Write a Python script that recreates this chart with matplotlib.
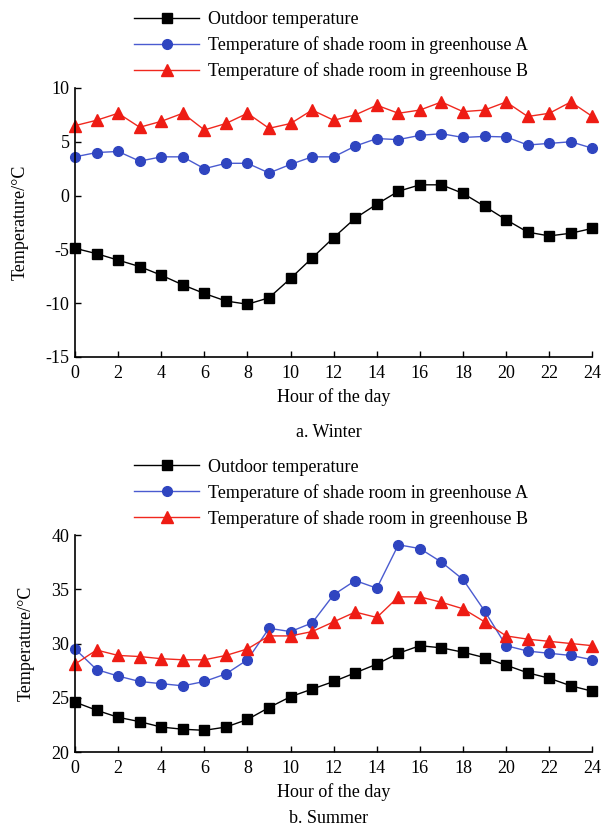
import numpy as np
import matplotlib
matplotlib.use('Agg')
import matplotlib.pyplot as plt

plt.rcParams['font.family'] = ['Liberation Serif', 'DejaVu Serif']
plt.rcParams['axes.unicode_minus'] = False

hours = list(range(25))

# Vinter
winter_out = [-4.9, -5.4, -6.0, -6.6, -7.4, -8.3, -9.1, -9.8, -10.1, -9.5, -7.7, -5.8, -3.9,
              -2.1, -0.8, 0.4, 1.0, 1.0, 0.2, -1.0, -2.25, -3.4, -3.75, -3.5, -3.05]
winter_a = [3.6, 4.0, 4.1, 3.2, 3.6, 3.6, 2.5, 3.0, 3.0, 2.1, 2.9, 3.6, 3.6,
            4.6, 5.3, 5.2, 5.6, 5.75, 5.4, 5.5, 5.45, 4.7, 4.85, 5.0, 4.4]
winter_b = [6.5, 7.0, 7.65, 6.35, 6.9, 7.65, 6.1, 6.7, 7.65, 6.25, 6.7, 7.95, 7.0,
            7.5, 8.4, 7.65, 7.95, 8.7, 7.8, 7.95, 8.7, 7.35, 7.65, 8.7, 7.35]

# Sommar
summer_out = [24.6, 23.85, 23.2, 22.8, 22.3, 22.1, 22.0, 22.3, 23.0, 24.1, 25.1, 25.8, 26.5,
              27.3, 28.1, 29.1, 29.8, 29.6, 29.2, 28.7, 28.0, 27.3, 26.8, 26.1, 25.6]
summer_a = [29.5, 27.6, 27.0, 26.5, 26.3, 26.1, 26.5, 27.2, 28.5, 31.4, 31.1, 31.9, 34.5,
            35.8, 35.1, 39.1, 38.75, 37.5, 35.9, 33.0, 29.8, 29.3, 29.1, 28.9, 28.5]
summer_b = [28.1, 29.4, 28.9, 28.8, 28.6, 28.5, 28.5, 28.9, 29.5, 30.7, 30.7, 31.1, 32.0,
            32.9, 32.4, 34.3, 34.3, 33.8, 33.2, 32.0, 30.7, 30.4, 30.2, 30.0, 29.8]

labels = ['Outdoor temperature',
          'Temperature of shade room in greenhouse A',
          'Temperature of shade room in greenhouse B']

fig = plt.figure(figsize=(6.03, 8.34), dpi=100)
ax1 = fig.add_axes([0.1244, 0.572, 0.858, 0.3225])
ax2 = fig.add_axes([0.1244, 0.0983, 0.858, 0.2602])


def rita(ax, out, a, b, ylim, yticks, leg_y, caption, cap_y):
    ax.plot(hours, out, color='black', marker='s', markersize=7, linewidth=1, label=labels[0])
    ax.plot(hours, a, color='#4a5bd0', marker='o', markersize=7, markerfacecolor='#2f45c0',
            markeredgecolor='#2f45c0', linewidth=1, label=labels[1])
    ax.plot(hours, b, color='#f0281e', marker='^', markersize=8, markerfacecolor='#ee1c14',
            markeredgecolor='#ee1c14', linewidth=1, label=labels[2])
    ax.set_xlim(0, 24)
    ax.set_ylim(*ylim)
    ax.set_xticks(range(0, 25, 2))
    ax.set_yticks(yticks)
    ax.spines['top'].set_visible(False)
    ax.spines['right'].set_visible(False)
    ax.spines['left'].set_linewidth(1.2)
    ax.spines['bottom'].set_linewidth(1.2)
    ax.tick_params(direction='in', length=4, width=1, labelsize=13)
    ax.tick_params(axis='x', pad=6)
    ax.tick_params(axis='y', pad=4)
    for sp in ax.spines.values():
        sp.set_clip_on(False)
    for ln in ax.lines:
        ln.set_clip_on(False)
    ax.set_xlabel('Hour of the day', fontsize=13, labelpad=4)
    ax.set_ylabel('Temperature/°C', fontsize=13, labelpad=12)
    ax.legend(loc='upper left', bbox_to_anchor=(0.223, leg_y), bbox_transform=fig.transFigure,
              frameon=False, fontsize=13, handlelength=3.6, handletextpad=0.5,
              labelspacing=0.45, borderpad=0, borderaxespad=0)
    fig.text(0.545, cap_y, caption, ha='center', va='center', fontsize=13)


rita(ax1, winter_out, winter_a, winter_b, (-15, 10), range(-15, 11, 5), 0.987, 'a. Winter', 0.482)
rita(ax2, summer_out, summer_a, summer_b, (20, 40), range(20, 41, 5), 0.450, 'b. Summer', 0.019)

fig.savefig('out.png', dpi=100)
